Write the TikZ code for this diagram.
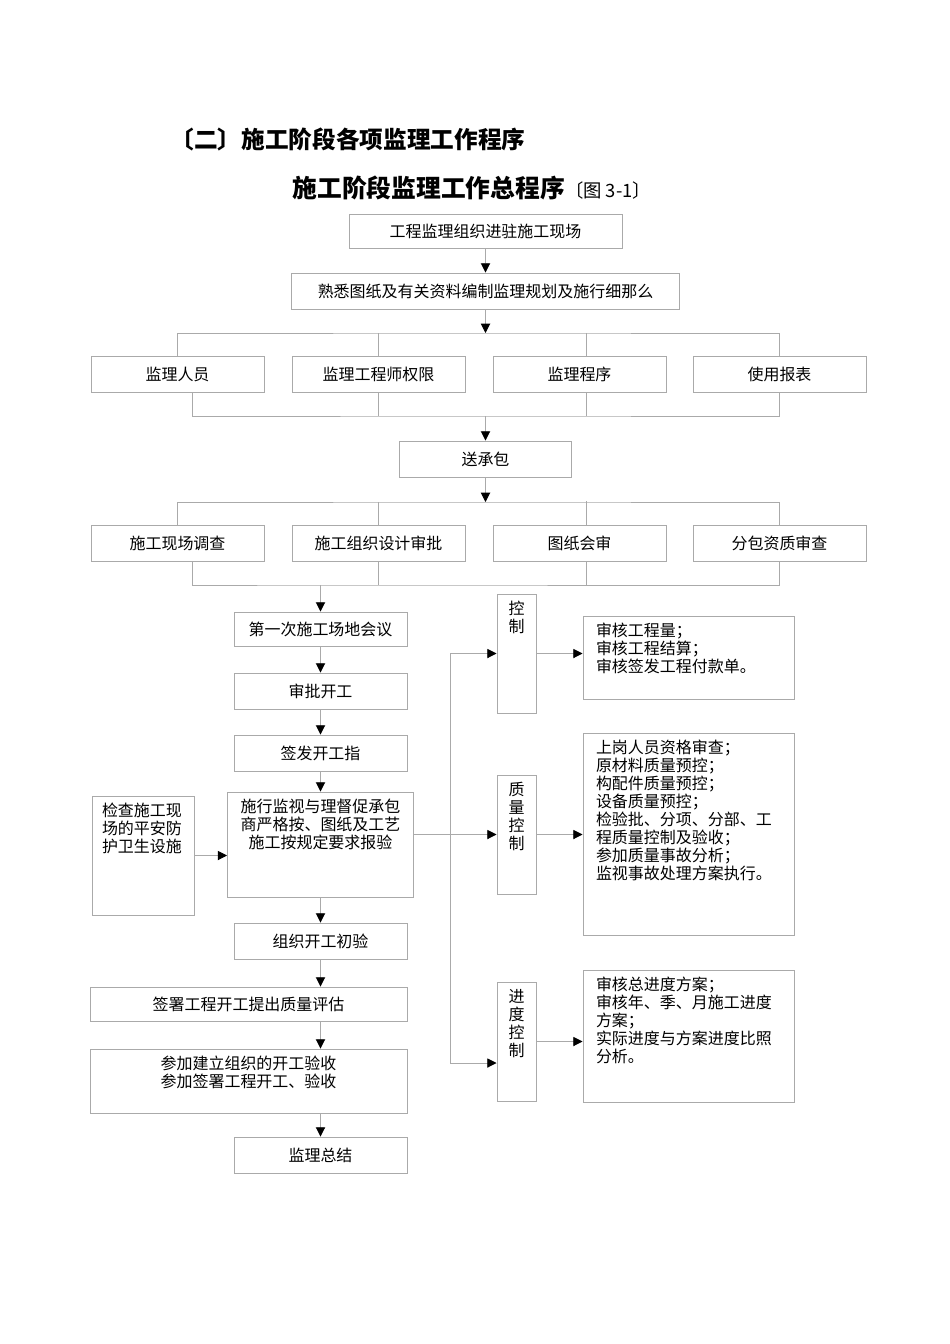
\documentclass[tikz,border=0pt]{standalone}
\usepackage{fontspec}
\setmainfont{Liberation Serif}
\newfontfamily\cjk{Noto Sans CJK SC}
\usetikzlibrary{arrows.meta,calc}

\definecolor{linegray}{RGB}{170,170,170}
\def\pxu{0.22mm}

\tikzset{
  boxfont/.style={font=\cjk\fontsize{10pt}{11.2pt}\selectfont},
  box/.style={draw=linegray, line width=0.6pt, inner sep=0pt, boxfont,
    minimum width=173*\pxu, minimum height=36*\pxu},
  link/.style={draw=linegray, line width=0.6pt},
  arrow/.style={link, -{Triangle[length=5.8pt, width=5.8pt, color=black]}},
  topnote/.style={label={[anchor=north, inner sep=0pt, label distance=-4.7pt,
    align=center, boxfont]north:{#1}}},
  topleft/.style 2 args={label={[anchor=north, inner sep=0pt, label distance=-4.7pt,
    align=left, text width=#1, boxfont]north:{#2}}},
}

\begin{document}
\begin{tikzpicture}[x=\pxu, y=-\pxu]
    \path[fill=white, use as bounding box] (0,0) rectangle (950,1344);

    % Titles
    \node[anchor=west, font=\cjk\bfseries\fontsize{14.8pt}{16pt}\selectfont] (sect) at (165,139)
        {〔二〕施工阶段各项监理工作程序};
    \node[anchor=west, font=\cjk\bfseries\fontsize{15.5pt}{17pt}\selectfont] (title) at (287,188)
        {施工阶段监理工作总程序{\mdseries\fontsize{11.5pt}{12pt}\selectfont 〔图\ 3-1〕}};

    % Preparation
    \node[box, minimum width=273*\pxu, minimum height=34*\pxu] (enter) at (485.5,231) {工程监理组织进驻施工现场};
    \node[box, minimum width=388*\pxu] (study) at (485.5,291) {熟悉图纸及有关资料编制监理规划及施行细那么};

    \node[box] (staff) at (177.5,374) {监理人员};
    \node[box] (power) at (378.5,374) {监理工程师权限};
    \node[box] (proc)  at (579.5,374) {监理程序};
    \node[box] (forms) at (779.5,374) {使用报表};

    \node[box, minimum width=172*\pxu] (send) at (485.5,459) {送承包};

    \node[box] (survey)  at (177.5,543.5) {施工现场调查};
    \node[box] (design)  at (378.5,543.5) {施工组织设计审批};
    \node[box] (drawing) at (579.5,543.5) {图纸会审};
    \node[box] (subc)    at (779.5,543.5) {分包资质审查};

    % Main column
    \node[box, minimum height=34*\pxu] (meet1) at (320.5,629) {第一次施工场地会议};
    \node[box] (approve) at (320.5,691) {审批开工};
    \node[box] (notice)  at (320.5,753) {签发开工指};
    \node[box, minimum width=186*\pxu, minimum height=105*\pxu,
        topnote={施行监视与理督促承包\\商严格按、图纸及工艺\\施工按规定要求报验}] (supervise) at (320.5,844.5) {};
    \node[box, minimum width=102*\pxu, minimum height=119*\pxu,
        topleft={18.04mm}{检查施工现\\场的平安防\\护卫生设施}] (check) at (143,855.5) {};
    \node[box] (initial) at (320.5,941) {组织开工初验};
    \node[box, minimum width=317*\pxu, minimum height=34*\pxu] (sign) at (248.5,1004) {签署工程开工提出质量评估};
    \node[box, minimum width=317*\pxu, minimum height=64*\pxu,
        topnote={参加建立组织的开工验收\\参加签署工程开工、验收}] (accept) at (248.5,1081) {};
    \node[box] (summary) at (320.5,1155) {监理总结};

    % Control boxes
    \node[box, minimum width=39*\pxu, minimum height=119*\pxu, topnote={控\\制}] (costc) at (516.5,653.5) {};
    \node[box, minimum width=39*\pxu, minimum height=119*\pxu, topnote={质\\量\\控\\制}] (quality) at (516.5,834.5) {};
    \node[box, minimum width=39*\pxu, minimum height=119*\pxu, topnote={进\\度\\控\\制}] (progress) at (516.5,1041.5) {};

    \node[box, minimum width=211*\pxu, minimum height=83*\pxu,
        topleft={40.7mm}{审核工程量；\\审核工程结算；\\审核签发工程付款单。}] (costd) at (688.5,657.5) {};
    \node[box, minimum width=211*\pxu, minimum height=202*\pxu,
        topleft={40.7mm}{上岗人员资格审查；\\原材料质量预控；\\构配件质量预控；\\设备质量预控；\\检验批、分项、分部、工\\程质量控制及验收；\\参加质量事故分析；\\监视事故处理方案执行。}] (qualityd) at (688.5,834) {};
    \node[box, minimum width=211*\pxu, minimum height=132*\pxu,
        topleft={40.7mm}{审核总进度方案；\\审核年、季、月施工进度\\方案；\\实际进度与方案进度比照\\分析。}] (progressd) at (688.5,1036) {};

    % Connectors, top part
    \coordinate (bus0) at (485.5,333);
    \coordinate (bus1) at (485.5,416);
    \coordinate (bus2) at (485.5,502);
    \coordinate (bus3) at (320.5,585);
    \draw[arrow] (enter) -- (study);
    \draw[arrow] (study) -- (bus0);
    \draw[link] (staff.north) |- (bus0) -| (forms.north);
    \draw[link] (power.north) -- (power.north |- bus0);
    \draw[link] ($(proc.north)+(6.5,0)$) -- ++(0,-23);
    \draw[link] ($(staff.south)+(14.5,0)$) |- (bus1) -| (forms.south);
    \draw[link] (power.south) -- (power.south |- bus1);
    \draw[link] ($(proc.south)+(6.5,0)$) -- ++(0,24);
    \draw[arrow] (bus1) -- (send);

    \draw[arrow] (send) -- (bus2);
    \draw[link] (survey.north) |- (bus2) -| (subc.north);
    \draw[link] (design.north) -- (design.north |- bus2);
    \draw[link] ($(drawing.north)+(6.5,0)$) -- ++(0,-24);
    \draw[link] ($(survey.south)+(14.5,0)$) |- (bus3) -| (subc.south);
    \draw[link] (design.south) -- (design.south |- bus3);
    \draw[link] ($(drawing.south)+(6.5,0)$) -- ++(0,24);
    \draw[arrow] (bus3) -- (meet1);

    % Main column
    \draw[arrow] (meet1) -- (approve);
    \draw[arrow] (approve) -- (notice);
    \draw[arrow] (notice) -- (supervise);
    \draw[arrow] (supervise) -- (initial);
    \draw[arrow] (initial) -- (initial.south |- sign.north);
    \draw[arrow] (sign.south -| initial.south) -- (accept.north -| initial.south);
    \draw[arrow] (accept.south -| summary.north) -- (summary);
    \draw[arrow] (check) -- (check -| supervise.west);

    % Control branches
    \coordinate (trunk) at (450,1063);
    \draw[arrow] (costc.west -| trunk) -- (costc.west);
    \draw[arrow] (costc.west -| trunk) -- (trunk) -- (trunk -| progress.west);
    \draw[arrow] (supervise.east |- quality.west) -- (quality.west);
    \draw[arrow] (costc) -- (costc -| costd.west);
    \draw[arrow] (quality) -- (quality -| qualityd.west);
    \draw[arrow] (progress) -- (progress -| progressd.west);
\end{tikzpicture}
\end{document}
